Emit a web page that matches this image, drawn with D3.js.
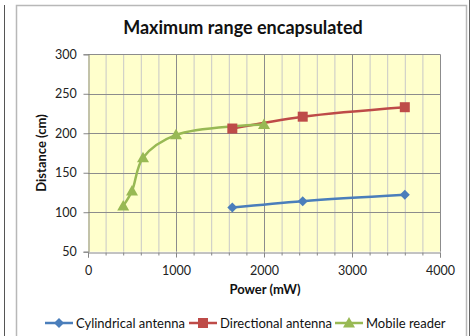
<!DOCTYPE html>
<html><head><meta charset="utf-8">
<script src="https://cdn.jsdelivr.net/npm/d3@7"></script>
<style>body{margin:0;background:#fff}svg{display:block}text{font-family:Lato,'Open Sans',sans-serif}</style>
</head><body><svg id="c" width="471" height="336"></svg>
<script>
const title = "Maximum range encapsulated";
const xTitle = "Power (mW)";
const yTitle = "Distance (cm)";
const xTicks = [0, 1000, 2000, 3000, 4000];
const yTicks = [50, 100, 150, 200, 250, 300];
const seriesNames = ["Cylindrical antenna", "Directional antenna", "Mobile reader"];
const seriesColors = ["#4A7EBB", "#BE4B48", "#98B954"];
const cylX = [1640, 2440, 3600];
const cylY = [106, 114, 122];
const dirX = [1640, 2440, 3600];
const dirY = [206, 221, 233];
const mobX = [400, 500, 625, 1000, 2000];
const mobY = [108, 127, 169, 198, 211];

const series = [
  {name: seriesNames[0], color: seriesColors[0], shape: "diamond", pts: cylX.map((x,i)=>[x, cylY[i]])},
  {name: seriesNames[1], color: seriesColors[1], shape: "square", pts: dirX.map((x,i)=>[x, dirY[i]])},
  {name: seriesNames[2], color: seriesColors[2], shape: "triangle", pts: mobX.map((x,i)=>[x, mobY[i]])}
];

const svg = d3.select("#c");
svg.append("line").attr("x1",4.5).attr("x2",4.5).attr("y1",5).attr("y2",336).attr("stroke","#555").attr("stroke-width",1);
svg.append("rect").attr("x",16.5).attr("y",5.5).attr("width",450).attr("height",340).attr("fill","#fff").attr("stroke","#b8b8b8").attr("stroke-width",1.5);
svg.append("line").attr("x1",469.5).attr("x2",469.5).attr("y1",0).attr("y2",336).attr("stroke","#666").attr("stroke-width",1);

const x = d3.scaleLinear().domain([0,4000]).range([88,440]);
const y = d3.scaleLinear().domain([50,300]).range([251.7,54.3]);

svg.append("rect").attr("x",x(0)).attr("y",y(300)).attr("width",x(4000)-x(0)).attr("height",y(50)-y(300)).attr("fill","#FFFFCC");

const minor = d3.range(200,4000,200).filter(v=>v%1000!==0);
svg.append("g").selectAll("line").data(minor).join("line")
  .attr("x1",d=>x(d)+0.5).attr("x2",d=>x(d)+0.5).attr("y1",y(300)).attr("y2",y(50))
  .attr("stroke","#c8c8c8").attr("stroke-width",1);
svg.append("g").selectAll("line").data(xTicks.slice(1)).join("line")
  .attr("x1",d=>Math.round(x(d))+0.5).attr("x2",d=>Math.round(x(d))+0.5).attr("y1",y(300)).attr("y2",y(50))
  .attr("stroke","#8c8c8c").attr("stroke-width",1);
svg.append("g").selectAll("line").data(yTicks.slice(1)).join("line")
  .attr("x1",x(0)).attr("x2",x(4000)).attr("y1",d=>Math.round(y(d))+0.5).attr("y2",d=>Math.round(y(d))+0.5)
  .attr("stroke","#8c8c8c").attr("stroke-width",1);

const xAxis = svg.append("g").attr("transform",`translate(0,${Math.round(y(50))+0.5})`)
  .call(d3.axisBottom(x).tickValues(xTicks).tickSize(5).tickFormat(d3.format("d")));
svg.append("g").attr("transform",`translate(0,${Math.round(y(50))+0.5})`)
  .call(d3.axisBottom(x).tickValues(minor).tickSize(3).tickFormat(""))
  .call(g=>{g.select(".domain").remove();g.selectAll("line").attr("stroke","#868686");});
xAxis.select(".domain").attr("stroke","#868686");
xAxis.selectAll("line").attr("stroke","#868686");
xAxis.selectAll("text").attr("font-size",12.5).attr("fill","#222").attr("dy","1.15em");
const yAxis = svg.append("g").attr("transform",`translate(${Math.round(x(0))+0.5},0)`)
  .call(d3.axisLeft(y).tickValues(yTicks).tickSize(5));
yAxis.select(".domain").attr("stroke","#868686");
yAxis.selectAll("line").attr("stroke","#868686");
yAxis.selectAll("text").attr("font-size",12.5).attr("fill","#222").attr("dx","-0.3em");

svg.append("text").attr("x",243).attr("y",34).attr("text-anchor","middle").attr("font-size",18).attr("font-weight","bold").attr("fill","#111").text(title);
svg.append("text").attr("x",265).attr("y",294).attr("text-anchor","middle").attr("font-size",13).attr("font-weight","bold").attr("fill","#111").text(xTitle);
svg.append("text").attr("transform",`translate(46,${(y(300)+y(50))/2}) rotate(-90)`).attr("text-anchor","middle").attr("font-size",13).attr("font-weight","bold").attr("fill","#111").text(yTitle);

function marker(g, shape, color, cx, cy){
  if(shape==="diamond"){
    g.append("path").attr("d",`M${cx},${cy-5}L${cx+5},${cy}L${cx},${cy+5}L${cx-5},${cy}Z`).attr("fill",color);
  } else if(shape==="square"){
    g.append("rect").attr("x",cx-5).attr("y",cy-5).attr("width",10).attr("height",10).attr("fill",color);
  } else {
    g.append("path").attr("d",`M${cx},${cy-6}L${cx+6},${cy+4.5}L${cx-6},${cy+4.5}Z`).attr("fill",color);
  }
}

const line = d3.line().x(d=>x(d[0])).y(d=>y(d[1])).curve(d3.curveCatmullRom.alpha(0.5));
const plot = svg.append("g");
series.forEach(s=>{
  plot.append("path").attr("d",line(s.pts)).attr("fill","none").attr("stroke",s.color).attr("stroke-width",2.5).attr("stroke-linejoin","round");
});
series.forEach(s=>{
  s.pts.forEach(p=>marker(plot, s.shape, s.color, x(p[0]), y(p[1])));
});

const legX = [45, 189, 335];
const leg = svg.append("g");
series.forEach((s,i)=>{
  const lx = legX[i], ly = 323;
  leg.append("line").attr("x1",lx).attr("x2",lx+28).attr("y1",ly).attr("y2",ly).attr("stroke",s.color).attr("stroke-width",2.5);
  marker(leg, s.shape, s.color, lx+14, ly);
  leg.append("text").attr("x",lx+31).attr("y",ly+4.5).attr("font-size",13).attr("fill","#111").text(s.name);
});
</script></body></html>
